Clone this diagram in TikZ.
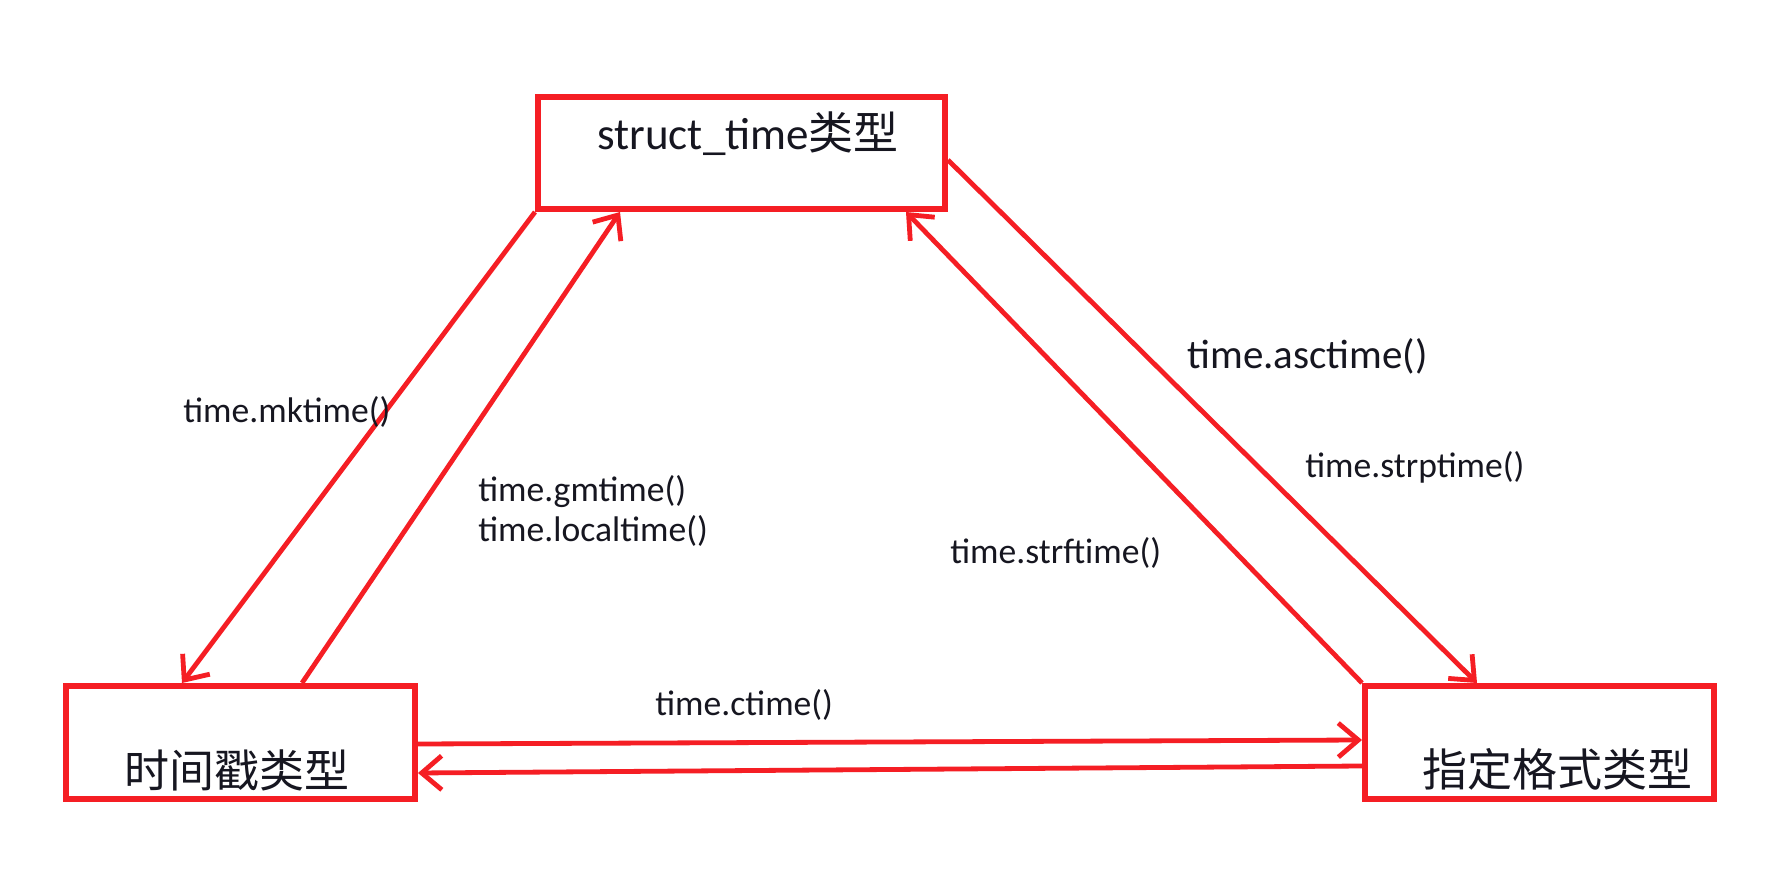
\documentclass[tikz,border=0pt]{standalone}
\usepackage{fontspec}
\setmainfont{Carlito}
\newfontfamily\cjk{Noto Sans CJK SC}
\usetikzlibrary{arrows.meta}
\definecolor{boxred}{RGB}{245,30,36}
\definecolor{ink}{RGB}{22,22,32}
\begin{document}
\begin{tikzpicture}[x=0.5pt,y=-0.5pt,
  typebox/.style={draw=boxred,line width=3pt,rectangle,inner sep=0pt},
  boxtext/.style={inner sep=0pt,text=ink,font=\fontsize{22.5pt}{27pt}\selectfont},
  fnlabel/.style={inner sep=0pt,anchor=west,text=ink,font=\fontsize{17.8pt}{19.5pt}\selectfont,align=left},
  conv/.style={draw=boxred,line width=2.4pt,-{Straight Barb[length=10pt,width=17pt,line width=2.4pt]}}]
\useasboundingbox (0,0) rectangle (1782,886);
\fill[white] (0,0) rectangle (1782,886);

% the three representations of a time value
\node[typebox,minimum width=203.5pt,minimum height=56pt] (st) at (741.5,153) {};
\node[typebox,minimum width=174.5pt,minimum height=56.5pt] (ts) at (240.5,742.5) {};
\node[typebox,minimum width=174.5pt,minimum height=56.5pt] (fmt) at (1539.5,742.5) {};

\node[boxtext,anchor=base west] (stText) at (597,150) {struct\_time{\cjk 类型}};
\node[boxtext,anchor=west] (tsText) at (124,770) {\cjk 时间戳类型};
\node[boxtext,anchor=west] (fmtText) at (1422,769) {\cjk 指定格式类型};

% conversion functions
\draw[conv] (st.south west) -- ([xshift=59.5pt]ts.north west);
\draw[conv] ([xshift=119.5pt]ts.north west) -- ([xshift=42.5pt]st.south west);
\draw[conv] ([yshift=-33pt]st.north east) -- ([xshift=57.5pt]fmt.north west);
\draw[conv] (fmt.north west) -- ([xshift=185.5pt]st.south west);
\draw[conv] ([yshift=-30.5pt]ts.north east) -- ([yshift=-28.5pt]fmt.north west);
\draw[conv] ([yshift=-41.5pt]fmt.north west) -- ([yshift=-45pt]ts.north east);

\node[fnlabel] (mk) at (183,412) {time.mktime()};
\node[fnlabel] (gm) at (478,511) {time.gmtime()\\[0.3pt]time.localtime()};
\node[fnlabel,font=\fontsize{20.5pt}{22pt}\selectfont] (asc) at (1187,356) {time.asctime()};
\node[fnlabel] (strp) at (1305,467) {time.strptime()};
\node[fnlabel] (strf) at (950,553) {time.strftime()};
\node[fnlabel] (ct) at (655,705) {time.ctime()};
\end{tikzpicture}
\end{document}
